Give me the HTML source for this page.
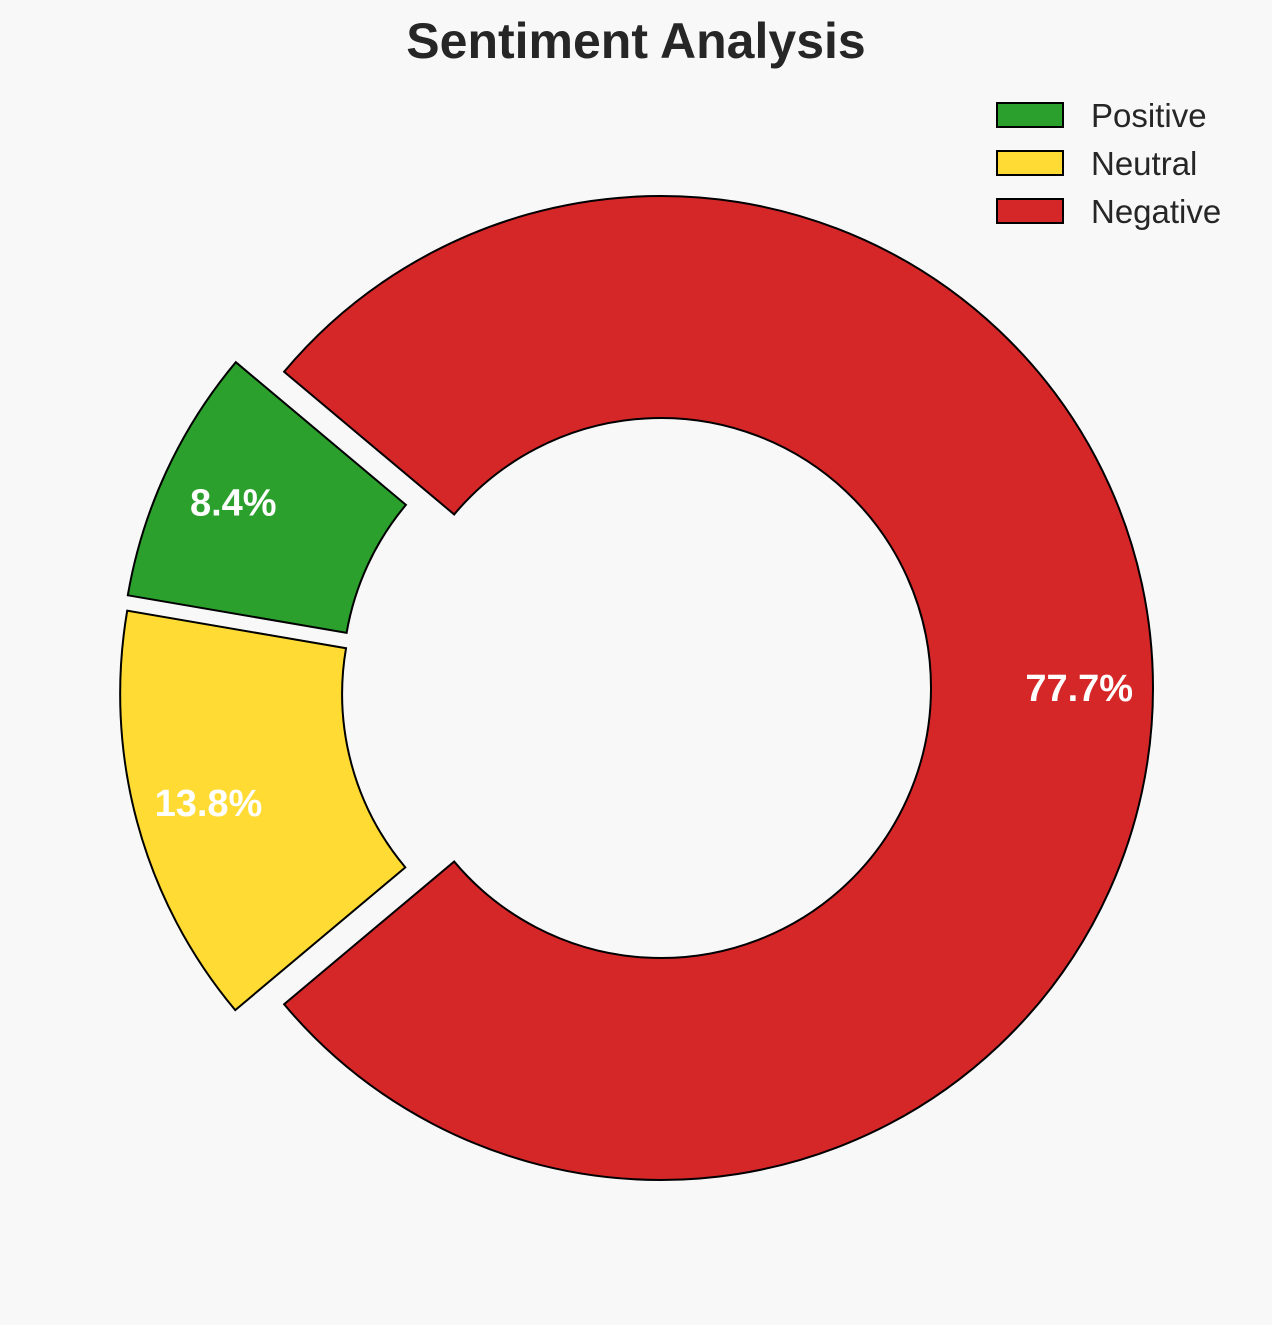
<!DOCTYPE html>
<html><head><meta charset="utf-8"><style>
html,body{margin:0;padding:0;background:#f8f8f8;}
svg{display:block;font-family:"Liberation Sans",Arial,sans-serif;}
</style></head><body>
<svg id="chart" width="1272" height="1325" viewBox="0 0 1272 1325">
<rect width="1272" height="1325" fill="#f8f8f8"/>
<text x="636" y="58" text-anchor="middle" font-size="50" font-weight="bold" fill="#262626">Sentiment Analysis</text>
<g id="slices"></g>
<g id="legend"></g>
</svg>
<script>
const categories = ["Positive","Neutral","Negative"];
const values = [8.4, 13.8, 77.7];
const colors = ["#2ca02c","#ffdb33","#d62728"];
const explode = [0.1, 0.1, 0];

const NS="http://www.w3.org/2000/svg";
const cx=661, cy=688, R=492, r=270, startAngle=140;
const total=values.reduce((a,b)=>a+b,0);
const g=document.getElementById('slices');
function pt(ox,oy,rad,deg){const a=deg*Math.PI/180;return [ox+rad*Math.cos(a), oy-rad*Math.sin(a)];}
let ang=startAngle;
values.forEach((v,i)=>{
  const sweep=v/total*360, a0=ang, a1=ang+sweep, mid=(a0+a1)/2;
  const offAng=180+(mid-180)*0.45;
  const [ox,oy]=pt(cx,cy,explode[i]*R,offAng);
  const p0=pt(ox,oy,R,a0), p1=pt(ox,oy,R,a1), q1=pt(ox,oy,r,a1), q0=pt(ox,oy,r,a0);
  const large=sweep>180?1:0;
  const d=`M${p0[0]},${p0[1]} A${R},${R} 0 ${large} 0 ${p1[0]},${p1[1]} L${q1[0]},${q1[1]} A${r},${r} 0 ${large} 1 ${q0[0]},${q0[1]} Z`;
  const path=document.createElementNS(NS,'path');
  path.setAttribute('d',d);path.setAttribute('fill',colors[i]);
  path.setAttribute('stroke','#000');path.setAttribute('stroke-width','2');
  
  
  g.appendChild(path);
  const lp=pt(ox,oy,0.85*R,mid);
  const t=document.createElementNS(NS,'text');
  t.setAttribute('x',lp[0]);t.setAttribute('y',lp[1]+13);
  t.setAttribute('text-anchor','middle');t.setAttribute('font-size','38');
  t.setAttribute('font-weight','bold');t.setAttribute('fill','#fff');
  t.textContent=v.toFixed(1)+'%';
  
  
  g.appendChild(t);
  ang=a1;
});
const lg=document.getElementById('legend');
categories.forEach((c,i)=>{
  const y=103+i*48;
  const rect=document.createElementNS(NS,'rect');
  rect.setAttribute('x',997);rect.setAttribute('y',y);rect.setAttribute('width',66);rect.setAttribute('height',24);
  rect.setAttribute('fill',colors[i]);rect.setAttribute('stroke','#000');rect.setAttribute('stroke-width','2');
  
  
  lg.appendChild(rect);
  const t=document.createElementNS(NS,'text');
  t.setAttribute('x',1091);t.setAttribute('y',y+24);t.setAttribute('font-size','33');t.setAttribute('fill','#262626');
  t.textContent=c;
  
  
  lg.appendChild(t);
});
</script>
</body></html>
